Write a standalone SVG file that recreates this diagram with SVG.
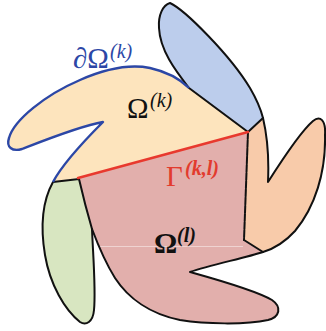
<svg xmlns="http://www.w3.org/2000/svg" width="326" height="331" viewBox="0 0 326 331">
<style>
.edge{fill:none;stroke:#111;stroke-width:2;stroke-linejoin:round;stroke-linecap:round}
.lbl{font-family:"Liberation Serif","DejaVu Serif",serif}
.main{font-size:29px}
.sup{font-size:20px;font-style:italic}
</style>
<rect width="326" height="331" fill="#fff"/>
<g id="omega-k">
<path d="M53,182 C62,165 85,140 103,122 C80,126 40,142 22,149 C12,152 6,147 9,138 C14,120 45,95 80,80 C105,69 130,64 150,68 C168,72 181,80 189,88 L248,132 L78,178 Z" fill="#fde4bd"/>
</g>
<g id="region-blue">
<path d="M248,132 L189,88 C175,70 160,50 159,28 C158,15 163,5 170,3 C185,10 230,55 250,88 C257,100 261,110 263,118 Z" fill="#bccdec"/>
</g>
<g id="region-orange">
<path d="M263,118 C267,135 269,160 268,182 C282,160 300,132 313,121 C320,115 326,120 325,135 C326,172 315,207 295,231 C285,242 273,249 263,252 L244,240 L248,132 Z" fill="#f8cbaa"/>
</g>
<g id="omega-l">
<path d="M78,178 L248,132 L244,240 L263,252 C245,258 210,265 190,272 C215,279 255,290 272,300 C282,307 280,317 268,320 C245,325 205,324 180,320 C150,314 128,298 115,278 C105,262 98,245 92,229 Q85,205 78,178 Z" fill="#e2afac"/>
<line x1="99" y1="246.5" x2="243" y2="246.5" stroke="#fff" stroke-opacity="0.45" stroke-width="1"/>
</g>
<g id="region-green">
<path d="M53,182 L79,179 Q85,205 92,229 C93,255 96,290 94,310 C93,322 86,326 80,322 C65,310 50,285 45,255 C40,225 43,200 53,182 Z" fill="#d8e6c1"/>
</g>
<g id="connectors">
<path class="edge" d="M248,132 L189,88 C175,70 160,50 159,28 C158,15 163,5 170,3 C185,10 230,55 250,88 C257,100 261,110 263,118 Z"/>
<path class="edge" d="M263,118 C267,135 269,160 268,182 C282,160 300,132 313,121 C320,115 326,120 325,135 C326,172 315,207 295,231 C285,242 273,249 263,252 L244,240"/>
<path class="edge" d="M263,252 C245,258 210,265 190,272 C215,279 255,290 272,300 C282,307 280,317 268,320 C245,325 205,324 180,320 C150,314 128,298 115,278 C105,262 98,245 92,229"/>
<path class="edge" d="M53,182 L79,179 Q85,205 92,229 C93,255 96,290 94,310 C93,322 86,326 80,322 C65,310 50,285 45,255 C40,225 43,200 53,182 Z"/>
<path class="edge" d="M248,132 L244,240" stroke-dasharray="7 1.2"/>
<path d="M53,182 C62,165 85,140 103,122 C80,126 40,142 22,149 C12,152 6,147 9,138 C14,120 45,95 80,80 C105,69 130,64 150,68 C168,72 181,80 189,88" fill="none" stroke="#2c47a6" stroke-width="2.4" stroke-linejoin="round"/>
<path d="M78,178 L248,132" stroke="#e8392e" stroke-width="2.5" stroke-linecap="round"/>
</g>
<g id="labels" class="lbl">
<text x="73" y="68" fill="#2c47a6"><tspan class="main">∂Ω</tspan><tspan class="sup" x="110" y="58">(k)</tspan></text>
<text x="127" y="118" fill="#111"><tspan class="main">Ω</tspan><tspan class="sup" x="150" y="107">(k)</tspan></text>
<text x="166" y="186" fill="#e23b2e"><tspan class="main">Γ</tspan><tspan class="sup" x="185" y="175" font-weight="bold">(k,l)</tspan></text>
<text x="154" y="253" fill="#111" font-weight="bold"><tspan class="main">Ω</tspan><tspan class="sup" x="177" y="242">(l)</tspan></text>
</g>
</svg>
